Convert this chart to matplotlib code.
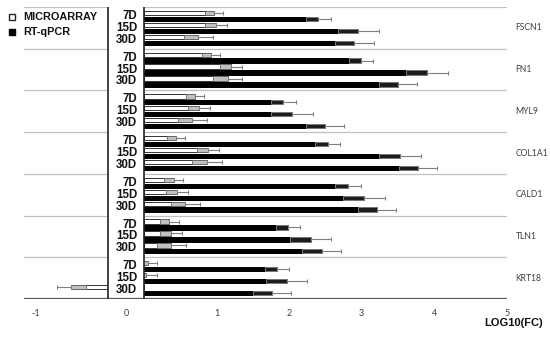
import matplotlib.pyplot as plt
import matplotlib.patches as mpatches
import numpy as np

genes = ['FSCN1', 'FN1', 'MYL9', 'COL1A1', 'CALD1', 'TLN1', 'KRT18']
days = ['7D', '15D', '30D']

# log10 fold change, microarray (white bars)
micro_mean = [[0.965, 0.995, 0.75],
              [0.92, 1.205, 1.155],
              [0.71, 0.756, 0.665],
              [0.44, 0.885, 0.87],
              [0.412, 0.458, 0.573],
              [0.353, 0.38, 0.376],
              [0.064, 0.032, -1.0]]
micro_err = [[0.12, 0.15, 0.2],
             [0.125, 0.15, 0.2],
             [0.124, 0.153, 0.2],
             [0.126, 0.152, 0.203],
             [0.128, 0.15, 0.203],
             [0.126, 0.152, 0.2],
             [0.12, 0.155, 0.2]]

# log10 fold change, RT-qPCR (black bars)
rt_mean = [[2.40, 2.955, 2.895],
           [2.99, 3.90, 3.50],
           [1.92, 2.04, 2.497],
           [2.53, 3.53, 3.77],
           [2.81, 3.03, 3.207],
           [1.98, 2.295, 2.45],
           [1.838, 1.965, 1.764]]
rt_err = [[0.17, 0.285, 0.27],
          [0.17, 0.285, 0.26],
          [0.172, 0.285, 0.263],
          [0.17, 0.287, 0.263],
          [0.176, 0.285, 0.262],
          [0.167, 0.287, 0.267],
          [0.167, 0.285, 0.267]]

# where the tick labels sit in the original picture
tick_pos = [-1.485, -0.234, 1, 2, 3, 4, 5]
tick_lab = ['-1', '0', '1', '2', '3', '4', '5']

fig = plt.figure(figsize=(5.5, 3.37), dpi=100)
ax = fig.add_axes([24/550, 38/337, 483/550, 292/337])

bar_h = 0.72


def draw_bars(y, means, errs, face, edge, box_face, box_edge):
    means = np.array(means)
    errs = np.array(errs)
    sign = np.sign(means)
    sign[sign == 0] = 1
    ax.barh(y, means, height=bar_h, color=face, edgecolor=edge, linewidth=0.7, zorder=2)
    # shaded error part inside the bar
    ax.barh(y, -sign*errs, left=means, height=bar_h, color=box_face,
            edgecolor=box_edge, linewidth=0.6, zorder=3)
    # whisker going outwards
    lower = np.where(sign < 0, errs, 0)
    upper = np.where(sign > 0, errs, 0)
    ax.errorbar(means, y, xerr=[lower, upper], fmt='none', ecolor='#7f7f7f',
                elinewidth=0.8, capsize=1.5, capthick=0.8, zorder=3)


for g in range(len(genes)):
    base = 7*g
    y_micro = [base + 1, base + 3, base + 5]
    y_rt = [base + 2, base + 4, base + 6]
    draw_bars(y_micro, micro_mean[g], micro_err[g], 'white', '#333333', '#c0c0c0', '#666666')
    draw_bars(y_rt, rt_mean[g], rt_err[g], 'black', 'black', '#1c1c1c', '#8c8c8c')
    for k, d in enumerate(days):
        ax.text(-0.09, base + 1.5 + 2*k, d, ha='right', va='center', fontsize=8.3,
                fontweight='bold', family='Liberation Sans', zorder=6, color='#111111')
    ax.text(5.12, base + 3.5, genes[g], ha='left', va='center', fontsize=6.2,
            family='Lato', color='#404040', clip_on=False)

# group separators
for yy in range(0, 49, 7):
    ax.axhline(yy, color='#c0c0c0', linewidth=0.9, zorder=1)
ax.axhline(49, color='#595959', linewidth=1.6, zorder=5)

# white box holding the day labels
ax.add_patch(mpatches.Rectangle((-0.495, 0), 0.495, 49, facecolor='white',
                                edgecolor='none', zorder=4))
ax.plot([-0.495, -0.495], [0, 49], color='#222222', linewidth=1.2, zorder=5)
ax.plot([0, 0], [0, 49], color='#222222', linewidth=1.2, zorder=5)

ax.set_xlim(-1.65, 5.0)
ax.set_ylim(49, 0)
ax.set_yticks([])
ax.set_xticks(tick_pos)
ax.set_xticklabels(tick_lab, fontsize=6.5, family='Lato', color='#404040')
ax.tick_params(axis='x', length=0, pad=7)
for s in ax.spines.values():
    s.set_visible(False)

# legend
fig.patches.append(mpatches.Rectangle((9/550, 1 - 20/337), 6/550, 6/337, transform=fig.transFigure,
                                      facecolor='white', edgecolor='#222222', linewidth=1))
fig.patches.append(mpatches.Rectangle((9/550, 1 - 35/337), 6/550, 6/337, transform=fig.transFigure,
                                      facecolor='black', edgecolor='black', linewidth=1))
fig.text(23/550, 1 - 17/337, 'MICROARRAY', ha='left', va='center', fontsize=7.8,
         fontweight='bold', family='Liberation Sans', color='#111111')
fig.text(23/550, 1 - 32/337, 'RT-qPCR', ha='left', va='center', fontsize=7.8,
         fontweight='bold', family='Liberation Sans', color='#111111')

fig.text(543/550, 1 - 323/337, 'LOG10(FC)', ha='right', va='center', fontsize=8,
         fontweight='bold', family='Liberation Sans', color='#111111')

plt.savefig('out.png', dpi=100)
